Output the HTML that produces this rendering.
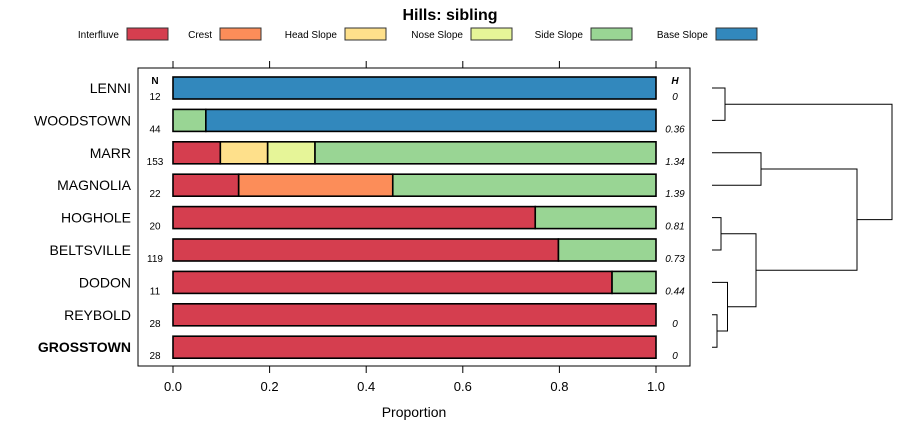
<!DOCTYPE html>
<html><head><meta charset="utf-8"><style>
body{margin:0;background:#fff}
svg{font-family:"Liberation Sans",sans-serif;display:block}
</style></head><body>
<svg id="c" width="900" height="440" viewBox="0 0 900 440">
<text x="450" y="20" text-anchor="middle" font-size="16" font-weight="bold">Hills: sibling</text>
<g id="legend"></g>
<rect x="138" y="68" width="552" height="298" fill="none" stroke="#000" stroke-width="1"/>
<g id="bars"></g>
<g id="axes"></g>
<g id="dendro" stroke="#000" stroke-width="1" fill="none"></g>
<text x="414" y="417" text-anchor="middle" font-size="14">Proportion</text>
</svg>
<script>
const classes=["Interfluve","Crest","Head Slope","Nose Slope","Side Slope","Base Slope"];
const colors=["#d53e4f","#fc8d59","#fee08b","#e6f598","#99d594","#3288bd"];
const soils=["LENNI","WOODSTOWN","MARR","MAGNOLIA","HOGHOLE","BELTSVILLE","DODON","REYBOLD","GROSSTOWN"];
const nVals=[12,44,153,22,20,119,11,28,28];
const hVals=["0","0.36","1.34","1.39","0.81","0.73","0.44","0","0"];
const interfluve=[0,0,0.098,0.136,0.75,0.798,0.909,1,1];
const crest=[0,0,0,0.319,0,0,0,0,0];
const headSlope=[0,0,0.098,0,0,0,0,0,0];
const noseSlope=[0,0,0.098,0,0,0,0,0,0];
const sideSlope=[0,0.068,0.706,0.545,0.25,0.202,0.091,0,0];
const baseSlope=[1,0.932,0,0,0,0,0,0,0];
const xTicks=[0,0.2,0.4,0.6,0.8,1.0];
const merges=[[0,1,13],[2,3,49],[4,5,9],[7,8,5],[6,"m3",15.5],["m2","m4",44],["m1","m5",145],["m0","m6",180]];
const series=[interfluve,crest,headSlope,noseSlope,sideSlope,baseSlope];
const NS="http://www.w3.org/2000/svg";
function mk(t,a,p,txt){const e=document.createElementNS(NS,t);for(const k in a)e.setAttribute(k,a[k]);if(txt!==undefined)e.textContent=txt;p.appendChild(e);return e;}
const X=v=>173+v*483, Y=i=>88+i*32.4;
const bars=document.getElementById('bars'),axes=document.getElementById('axes'),lg=document.getElementById('legend'),dd=document.getElementById('dendro');
const lgX=[127,220,345,471,591,716];
classes.forEach((c,k)=>{
 const t=mk('text',{x:lgX[k]-8,y:38,'text-anchor':'end','font-size':10},lg,c);
 
 
 const r=mk('rect',{x:lgX[k],y:28,width:41,height:12,fill:colors[k],stroke:'#333','stroke-width':1},lg);
 
 
});
mk('text',{x:155,y:84,'text-anchor':'middle','font-size':10,'font-weight':'bold'},axes,'N');
mk('text',{x:675,y:84,'text-anchor':'middle','font-size':10,'font-weight':'bold','font-style':'italic'},axes,'H');
soils.forEach((s,i)=>{
 const y=Y(i);let acc=0;
 series.forEach((ser,k)=>{
  const v=ser[i];if(v<=0)return;
  const r=mk('rect',{x:X(acc),y:y-11,width:X(acc+v)-X(acc),height:22,fill:colors[k],stroke:'#000','stroke-width':1.6},bars);
  
  
  acc+=v;
 });
 const l=mk('text',{x:131,y:y+5,'text-anchor':'end','font-size':14,'font-weight':s==="GROSSTOWN"?'bold':'normal'},axes,s);
 
 
 const n=mk('text',{x:155,y:y+12,'text-anchor':'middle','font-size':10},axes,nVals[i]);
 
 
 const h=mk('text',{x:675,y:y+12,'text-anchor':'middle','font-size':10,'font-style':'italic'},axes,hVals[i]);
 
 
});
xTicks.forEach(t=>{
 mk('line',{x1:X(t),x2:X(t),y1:61,y2:68,stroke:'#000'},axes);
 mk('line',{x1:X(t),x2:X(t),y1:366,y2:373,stroke:'#000'},axes);
 const tl=mk('text',{x:X(t),y:391,'text-anchor':'middle','font-size':13},axes,t.toFixed(1));
 
 
});
const DX=h=>712+h*(180/180);
const pos=[];
function node(c){if(typeof c==="number")return{x:712,y:Y(c)};return pos[+c.slice(1)];}
merges.forEach((m,j)=>{
 const a=node(m[0]),b=node(m[1]),x=DX(m[2]);
 const p=mk('path',{d:`M${a.x},${a.y}H${x}V${b.y}H${b.x}`},dd);
 
 
 pos[j]={x:x,y:(a.y+b.y)/2};
});
</script>
</body></html>
